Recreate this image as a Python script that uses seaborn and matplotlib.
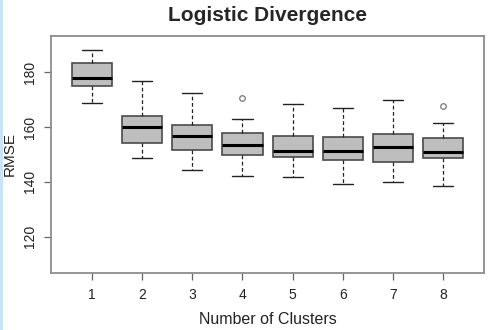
import pandas as pd
import seaborn as sns
import matplotlib.pyplot as plt
from matplotlib.patches import Rectangle

# === DATA (five-number summaries) ===
clusters = ['1', '2', '3', '4', '5', '6', '7', '8']
whisker_low = [168.7, 148.8, 144.2, 142.0, 141.6, 139.3, 140.0, 138.5]
q1 = [175.1, 154.0, 151.6, 149.8, 149.1, 147.9, 147.3, 148.7]
medians = [177.8, 160.1, 156.7, 153.6, 151.4, 151.1, 152.6, 150.9]
q3 = [183.4, 164.0, 160.8, 157.7, 156.9, 156.5, 157.5, 156.0]
whisker_high = [188.2, 176.6, 172.5, 163.0, 168.5, 166.8, 169.9, 161.3]
outlier_clusters = ['4', '8']
outlier_values = [170.5, 167.7]

#long-form table: with five points the quartiles land exactly on q1/median/q3
rows = []
for i, c in enumerate(clusters):
    for v in (whisker_low[i], q1[i], medians[i], q3[i], whisker_high[i]):
        rows.append({'Number of Clusters': c, 'RMSE': v})
df = pd.DataFrame(rows)
out_df = pd.DataFrame({'Number of Clusters': outlier_clusters, 'RMSE': outlier_values})

# === PLOT ===
sns.set_style('white')
plt.rcParams['font.family'] = ['Liberation Sans', 'DejaVu Sans']

fig = plt.figure(figsize=(4.95, 3.3), dpi=100)
ax = fig.add_axes([0.103, 0.173, 0.875, 0.718])

sns.boxplot(data=df, x='Number of Clusters', y='RMSE', order=clusters,
            width=0.8, whis=1.5, showfliers=False, color='#bebebe', saturation=1,
            boxprops=dict(facecolor='#bebebe', edgecolor='#4a4a4a', linewidth=1.2),
            medianprops=dict(color='black', linewidth=2.2),
            whiskerprops=dict(color='#222222', linestyle=(0, (3, 2)), linewidth=0.9),
            capprops=dict(color='#222222', linewidth=1.0),
            ax=ax)

sns.stripplot(data=out_df, x='Number of Clusters', y='RMSE', order=clusters,
              jitter=False, marker='o', size=4, facecolor='white',
              edgecolor='#777777', linewidth=0.9, ax=ax)

ax.set_xlim(-0.82, 7.82)
ax.set_ylim(106.8, 193.2)
ax.set_yticks([120, 140, 160, 180])
ax.set_yticklabels(['120', '140', '160', '180'], rotation=90, va='center')

for side in ['left', 'right', 'top', 'bottom']:
    ax.spines[side].set_visible(True)
    ax.spines[side].set_color('#8c8c8c')
    ax.spines[side].set_linewidth(1.3)

ax.tick_params(axis='both', direction='out', length=5, width=0.9,
               color='#666666', labelsize=10, labelcolor='#222222')
ax.tick_params(axis='x', bottom=True, pad=6)
ax.tick_params(axis='y', left=True, pad=5)

ax.set_xlabel('Number of Clusters', fontsize=11.5, color='#222222', labelpad=7)
ax.set_ylabel('RMSE', fontsize=11, color='#222222')
ax.yaxis.set_label_coords(-0.079, 0.5)
ax.set_title('Logistic Divergence', fontsize=15, fontweight='bold', pad=11)

#thin light-blue strip on the left edge of the original image
fig.patches.append(Rectangle((0, 0), 3 / 495, 1, transform=fig.transFigure,
                             facecolor='#c9e3f7', edgecolor='none'))

fig.savefig('out.png', dpi=100)
